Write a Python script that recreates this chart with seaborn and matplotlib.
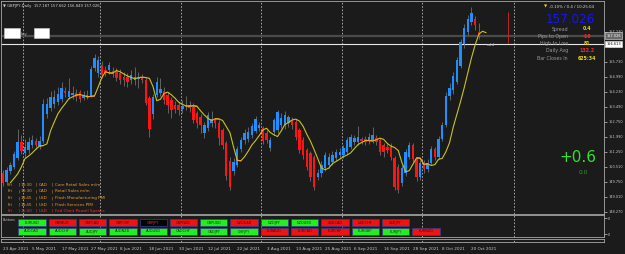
import numpy as np
import pandas as pd
import matplotlib
matplotlib.use("Agg")
import matplotlib.pyplot as plt
from matplotlib.patches import Rectangle
import seaborn as sns

# ---------------- data ----------------
symbol = "GBPJPY"
timeframe = "Daily"
first_day = "2021-04-23"
last_day = "2021-10-22"

opens = [150.17, 149.72, 150.30, 150.50, 150.95, 151.75, 151.20, 151.35, 151.60, 151.80,
         151.55, 151.80, 153.15, 153.45, 153.60, 153.70, 153.85, 154.25, 153.95, 154.05,
         154.15, 154.20, 153.90, 153.98, 154.00, 155.40, 155.15, 155.55, 155.30, 155.30,
         155.25, 155.25, 155.15, 154.98, 154.98, 154.82, 154.82, 154.85, 154.95, 154.80,
         153.90, 153.15, 154.07, 154.19, 154.27, 154.07, 153.82, 153.55, 153.55, 153.37,
         153.50, 153.57, 153.49, 153.16, 152.99, 152.16, 152.41, 152.66, 152.83, 152.66,
         152.33, 151.70, 150.80, 150.30, 150.60, 151.40, 151.83, 151.90, 152.10, 152.30,
         152.45, 152.45, 152.20, 151.42, 152.25, 152.33, 152.58, 152.58, 152.66, 152.83,
         152.75, 152.33, 151.83, 151.33, 151.17, 151.00, 150.01, 150.17, 150.42, 150.59,
         150.75, 150.92, 151.09, 151.09, 151.25, 151.50, 151.75, 151.75, 151.88, 151.86,
         151.80, 151.83, 151.95, 151.83, 151.58, 151.50, 151.50, 150.92, 150.51, 149.68,
         150.17, 151.00, 151.58, 150.90, 150.00, 150.70, 150.40, 150.70, 151.40, 151.00,
         151.90, 152.60, 154.00, 154.30, 154.70, 155.50, 156.60, 157.20, 157.70, 157.85,
         157.187]
highs = [150.35, 150.50, 150.75, 151.30, 152.40, 152.10, 151.90, 152.00, 152.10, 151.95,
         152.05, 153.85, 153.90, 154.25, 154.30, 154.45, 154.70, 154.45, 154.90, 154.50,
         154.35, 154.30, 154.25, 154.30, 155.50, 156.10, 156.00, 155.75, 155.50, 155.70,
         155.45, 155.40, 155.35, 155.20, 155.15, 155.30, 155.45, 155.20, 155.10, 154.95,
         154.00, 154.10, 154.95, 154.90, 154.45, 154.20, 153.95, 153.75, 153.70, 153.80,
         154.00, 153.75, 153.65, 153.30, 153.15, 152.75, 153.25, 153.30, 152.95, 152.85,
         152.45, 151.80, 151.00, 150.95, 151.55, 152.00, 152.40, 152.50, 152.70, 153.05,
         152.75, 152.55, 152.35, 152.00, 152.95, 153.35, 153.20, 153.30, 153.10, 153.00,
         152.90, 152.45, 152.00, 151.45, 151.30, 151.10, 150.40, 150.80, 151.25, 151.20,
         151.30, 151.40, 151.45, 151.60, 152.00, 152.15, 152.10, 152.55, 152.00, 152.05,
         152.20, 152.50, 152.10, 151.95, 151.70, 151.65, 151.70, 151.05, 150.65, 150.60,
         151.40, 151.75, 151.70, 151.00, 150.85, 150.85, 150.90, 151.55, 151.50, 152.05,
         152.75, 154.20, 154.65, 155.20, 155.95, 156.85, 157.60, 158.05, 158.45, 158.00,
         157.662]
lows = [149.55, 149.60, 150.15, 150.40, 150.85, 151.15, 151.00, 151.20, 151.45, 151.40,
        151.40, 151.70, 152.95, 153.30, 153.45, 153.55, 153.70, 153.95, 153.85, 153.85,
        153.75, 153.70, 153.80, 153.85, 153.95, 155.25, 154.95, 154.90, 155.00, 155.10,
        154.95, 154.75, 154.60, 154.50, 154.45, 154.60, 154.55, 154.40, 154.65, 153.55,
        152.00, 152.90, 153.95, 154.00, 153.60, 153.20, 152.95, 153.20, 153.10, 153.20,
        153.35, 153.25, 152.70, 152.45, 152.20, 151.95, 152.30, 152.50, 152.45, 151.60,
        151.40, 149.85, 149.35, 150.10, 150.50, 151.25, 151.65, 151.75, 151.95, 152.20,
        152.30, 151.65, 151.70, 151.30, 152.10, 152.20, 152.45, 152.40, 152.50, 152.40,
        151.85, 151.20, 150.90, 150.35, 149.80, 149.35, 149.85, 150.00, 150.30, 150.45,
        150.60, 150.80, 150.95, 150.95, 151.15, 151.40, 151.60, 151.60, 151.65, 151.60,
        151.65, 151.70, 151.60, 151.10, 151.00, 151.20, 150.85, 149.35, 149.20, 149.55,
        150.05, 150.90, 150.75, 149.80, 149.85, 150.20, 150.25, 150.60, 150.85, 150.90,
        151.80, 152.50, 153.80, 154.10, 154.60, 155.40, 156.40, 157.05, 157.55, 157.30,
        156.849]
closes = [149.70, 150.35, 150.60, 151.15, 151.75, 151.30, 151.50, 151.75, 151.85, 151.60,
          151.80, 153.60, 153.60, 153.95, 153.95, 154.10, 154.40, 154.15, 154.25, 154.15,
          153.95, 153.85, 154.05, 154.07, 155.35, 155.90, 155.80, 155.05, 155.15, 155.55,
          155.10, 154.90, 154.82, 154.82, 154.73, 155.06, 154.98, 154.92, 154.82, 153.65,
          152.40, 153.99, 154.73, 154.35, 153.82, 153.57, 153.32, 153.40, 153.35, 153.52,
          153.57, 153.45, 152.83, 152.66, 152.58, 152.58, 153.07, 152.86, 152.66, 151.91,
          151.58, 150.05, 149.50, 150.75, 151.40, 151.83, 152.20, 152.24, 152.55, 152.90,
          152.58, 151.80, 151.85, 151.83, 152.83, 153.24, 152.91, 153.08, 152.96, 152.58,
          152.00, 151.33, 151.09, 150.51, 150.01, 149.51, 150.17, 150.59, 151.09, 151.00,
          151.09, 151.25, 151.25, 151.42, 151.83, 152.00, 151.92, 152.00, 151.80, 151.75,
          151.96, 152.08, 151.75, 151.25, 151.25, 151.33, 151.00, 149.51, 149.34, 150.42,
          151.25, 151.58, 150.90, 150.00, 150.70, 150.40, 150.70, 151.40, 151.00, 151.90,
          152.60, 154.00, 154.40, 155.00, 155.80, 156.70, 157.40, 157.85, 158.15, 157.55,
          157.026]

axis_prices = [157.230, 156.490, 155.730, 154.990, 154.230, 153.490, 152.750, 151.990,
               151.250, 150.510, 149.750, 149.010, 148.270]
bid_price = 157.026
hline_price = 156.613

info_labels = ["Spread", "Pips to Open", "High to Low", "Daily Avg", "Bar Closes In"]
info_values = ["0.4", "-16", "81", "132.2", "625:34"]
info_value_colors = ["#e8d21a", "#ff2424", "#e8d21a", "#ff2424", "#e8d21a"]
header_info = "-0.10% / 0.4 / 10:25:04"
strength_value = "+0.6"
strength_sub = "0.0"

news_day = ["Fri", "Fri", "Fri", "Fri", "Fri"]
news_time = ["13:30", "13:30", "14:45", "14:45", "15:00"]
news_currency = ["CAD", "CAD", "USD", "USD", "USD"]
news_event = ["Core Retail Sales m/m", "Retail Sales m/m", "Flash Manufacturing PMI",
              "Flash Services PMI", "Fed Chair Powell Speaks"]
news_impact = ["medium", "medium", "medium", "medium", "high"]

buttons_row1 = ["EURUSD", "GBPAUD", "GBPCAD", "GBPCHF", "GBPJPY", "GBPNZD", "GBPUSD",
                "NZDCAD", "NZDJPY", "NZDUSD", "USDCAD", "USDCHF", "USDJPY"]
buttons_row1_state = ["up", "down", "down", "down", "current", "down", "up",
                      "down", "up", "up", "down", "down", "down"]
buttons_row2 = ["AUDCAD", "AUDCHF", "AUDJPY", "AUDNZD", "AUDUSD", "CADCHF", "CADJPY",
                "CHFJPY", "EURAUD", "EURCAD", "EURCHF", "EURGBP", "EURJPY", "EURNZD"]
buttons_row2_state = ["up", "up", "up", "up", "up", "up", "up",
                      "up", "down", "down", "down", "up", "up", "down"]

# ---------------- styling ----------------
sns.set_style("dark")
plt.rcParams["font.family"] = ["DejaVu Sans"]
BG = "#1b1b1b"
FG = "#c8c8c8"
W, H = 625, 254

dates = pd.bdate_range(first_day, last_day)
df = pd.DataFrame({"date": dates, "open": opens, "high": highs, "low": lows, "close": closes})
df["bar"] = np.arange(len(df))
n = len(df)

fig = plt.figure(figsize=(W / 100, H / 100), dpi=100, facecolor=BG)


def box(l, t, r, b):
    return [l / W, 1 - b / H, (r - l) / W, (b - t) / H]


# price <-> pixel layout
px_per_bar = 3.66
x_first = 3.0
xl = ((1 - x_first) / px_per_bar, (604 - x_first) / px_per_bar)

ax = fig.add_axes(box(1, 1, 604, 214), facecolor=BG)
axb = fig.add_axes(box(1, 215, 604, 237), facecolor=BG)
axt = fig.add_axes(box(1, 238.5, 604, 242), facecolor=BG)
for a in (ax, axb, axt):
    a.set_xlim(*xl)
    for s in a.spines.values():
        s.set_color("#a8a8a8")
        s.set_linewidth(0.6)
    a.grid(False)

ax.set_ylim(148.149, 158.751)

# month separators
month_starts = [i for i in range(1, n) if dates[i].month != dates[i - 1].month]
future_sep = n - 1 + (pd.Timestamp("2021-11-01") - dates[-1]).days - 0.5
seps = [i - 0.5 for i in month_starts] + [future_sep]
for a in (ax, axb, axt):
    for s in seps:
        a.axvline(s, color="#b8b8b8", lw=0.6, ls=(0, (2, 2)), zorder=1)

# horizontal price lines
ax.axhline(bid_price, color="#4a4a4a", lw=1.6, zorder=1)
ax.axhline(hline_price, color="#e6e6e6", lw=0.8, zorder=1)

# candles
up = df["close"] >= df["open"]
ax.vlines(df["bar"], df["low"], df["high"], color="#6e6e6e", lw=0.6, zorder=2)
body_lo = np.minimum(df["open"], df["close"])
body_h = np.maximum(np.abs(df["close"] - df["open"]), 0.04)
ax.bar(df["bar"][up], body_h[up], bottom=body_lo[up], width=0.66, color="#1e8fff", lw=0, zorder=3)
ax.bar(df["bar"][~up], body_h[~up], bottom=body_lo[~up], width=0.66, color="#ff1414", lw=0, zorder=3)

# moving average (EMA 5, shifted forward by 2 bars)
ma = df["close"].ewm(span=5, adjust=False).mean()
ma_df = pd.DataFrame({"bar": df["bar"] + 2, "ma": ma})
sns.lineplot(data=ma_df, x="bar", y="ma", ax=ax, color="#c8c21c", lw=0.8, zorder=4)
flat = np.abs(ma.diff().values) < 0.035
flat_y = np.where(flat | np.roll(flat, -1), ma.values, np.nan)
ax.plot(ma_df["bar"], flat_y, color="#ff9a1a", lw=0.8, zorder=4)

# red vertical line object and label
ax.vlines((508 - x_first) / px_per_bar, 156.65, 158.22, color="#c02424", lw=0.7, zorder=2)
ax.text((487 - x_first) / px_per_bar, 156.55, "add", fontsize=3.2, color="#bdbdbd", va="center")

# right price axis
ax.yaxis.tick_right()
ax.set_yticks(axis_prices)
ax.set_yticklabels([f"{p:.3f}" for p in axis_prices])
ax.tick_params(axis="y", labelsize=2.5, colors=FG, length=2, width=0.5, pad=1)
ax.tick_params(axis="x", bottom=False, labelbottom=False)
ax.set_xlabel("")
ax.set_ylabel("")
for price, txt, fc, tc in [(bid_price, "157.026", "#6a6a6a", "#ffffff"),
                           (hline_price, "156.613", "#ffffff", "#000000")]:
    ax.text(1.004, price, txt, transform=ax.get_yaxis_transform(), fontsize=2.5, color=tc,
            va="center", ha="left", zorder=10, clip_on=False,
            bbox=dict(boxstyle="square,pad=0.35", fc=fc, ec="#e0e0e0", lw=0.4))

# button window axis
axb.set_ylim(0, 1)
axb.yaxis.tick_right()
axb.set_yticks([0.85, 0.12])
axb.set_yticklabels(["0", "0"])
axb.tick_params(axis="y", labelsize=2.5, colors=FG, length=2, width=0.5, pad=1)
axb.tick_params(axis="x", bottom=False, labelbottom=False)

# bottom time axis
axt.set_yticks([])
tick_bars = list(range(0, n, 8))
axt.set_xticks(tick_bars)
axt.set_xticklabels([f"{dates[i].day} {dates[i].strftime('%b %Y')}" for i in tick_bars],
                    ha="left")
axt.tick_params(axis="x", labelsize=3.0, colors=FG, length=2, width=0.5, pad=1.5)

# ---------------- overlay (pixel coordinates) ----------------
ov = fig.add_axes([0, 0, 1, 1])
ov.set_xlim(0, W)
ov.set_ylim(H, 0)
ov.axis("off")
ov.patch.set_alpha(0)

# title
ov.text(3, 6, f"\u25bc {symbol},{timeframe}  {opens[-1]:.3f} {highs[-1]:.3f} {lows[-1]:.3f} {closes[-1]:.3f}",
        fontsize=2.7, color="#d6d6d6", va="center", ha="left")

# left label boxes
ov.add_patch(Rectangle((4, 27.5), 16, 10.5, fc="#ffffff", ec="#cfcfcf", lw=0.4))
ov.add_patch(Rectangle((34, 27.5), 15, 10.5, fc="#ffffff", ec="#cfcfcf", lw=0.4))
ov.text(21, 33.5, "buy", fontsize=2.6, color="#b0b0b0", va="center", ha="left")

# info panel
ov.text(544, 6.5, "\u25bc", fontsize=3, color="#e8d21a", va="center", ha="left")
ov.text(549, 6.5, header_info, fontsize=2.8, color="#d8d8d8", va="center", ha="left")
ov.text(570, 19.5, f"{bid_price:.3f}", fontsize=8.6, color="#1414ff", va="center", ha="center")
for k, (lab, val, col) in enumerate(zip(info_labels, info_values, info_value_colors)):
    yy = 29 + k * 7.3
    ov.text(568, yy, lab, fontsize=3.4, color="#9a9a9a", va="center", ha="right")
    ov.text(587, yy, val, fontsize=3.4, color=col, va="center", ha="center", fontweight="bold")

ov.text(578, 158, strength_value, fontsize=11, color="#30e030", va="center", ha="center")
ov.text(583, 172, strength_sub, fontsize=4.2, color="#2f9a2f", va="center", ha="center")

# news
for k in range(len(news_event)):
    yy = 185 + k * 6.5
    col = "#ff2a2a" if news_impact[k] == "high" else "#e89a2a"
    ov.text(8, yy, news_day[k], fontsize=3.0, color=col, va="center", ha="left")
    ov.text(18.5, yy, "|", fontsize=3.0, color=col, va="center", ha="left")
    ov.text(21, yy, news_time[k], fontsize=3.0, color=col, va="center", ha="left")
    ov.text(36, yy, "|", fontsize=3.0, color=col, va="center", ha="left")
    ov.text(39, yy, news_currency[k], fontsize=3.0, color=col, va="center", ha="left")
    ov.text(51.5, yy, "|", fontsize=3.0, color=col, va="center", ha="left")
    ov.text(55, yy, news_event[k], fontsize=3.0, color=col, va="center", ha="left")

# buttons
ov.text(3, 219.8, "Buttons", fontsize=2.4, color="#c0c0c0", va="center", ha="left")
styles = {"up": ("#22ee22", "#0a3a0a"), "down": ("#ee1414", "#5a0000"),
          "current": ("#050505", "#ff2020")}
for row, (names, states) in enumerate([(buttons_row1, buttons_row1_state),
                                       (buttons_row2, buttons_row2_state)]):
    top = 219.2 if row == 0 else 227.8
    for k, (nm, st) in enumerate(zip(names, states)):
        left = 18.3 + k * 30.3
        fc, tc = styles[st]
        ov.add_patch(Rectangle((left, top), 27.3, 7.2, fc=fc, ec="#3c3c8c", lw=0.5))
        ov.text(left + 13.65, top + 3.7, nm, fontsize=2.5, color=tc, va="center", ha="center")

fig.savefig("out.png", dpi=100, facecolor=BG)
